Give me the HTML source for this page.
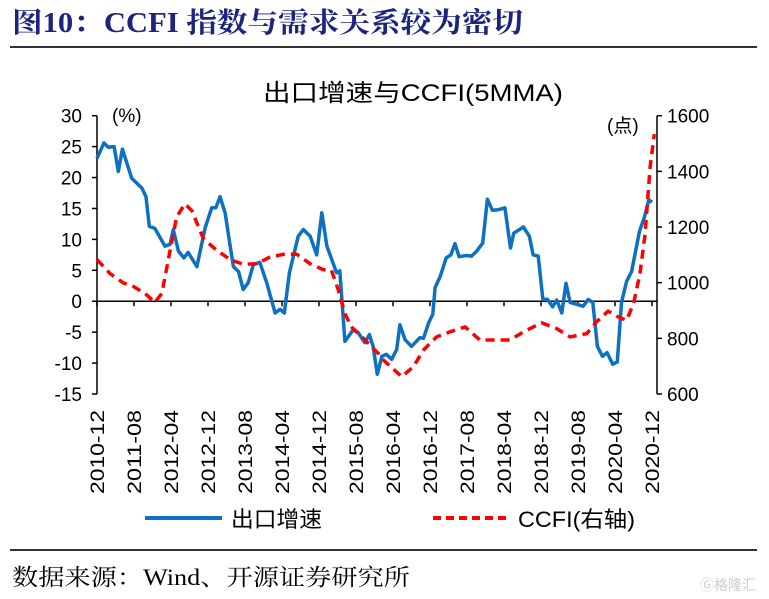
<!DOCTYPE html>
<html><head><meta charset="utf-8"><style>
body{margin:0;background:#fff;}
svg{display:block;}
</style></head><body>
<svg id="chart" width="769" height="599" viewBox="0 0 769 599" xmlns="http://www.w3.org/2000/svg">
<text x="12" y="32" font-family="'Liberation Serif','Noto Serif CJK SC',serif" font-weight="bold" font-size="28" fill="#1c2480" textLength="511" lengthAdjust="spacingAndGlyphs">图10：CCFI 指数与需求关系较为密切</text>
<line x1="10" y1="47" x2="757" y2="47" stroke="#333" stroke-width="2"/>
<text x="413" y="101" text-anchor="middle" font-family="'Liberation Sans','Noto Sans CJK SC',sans-serif" font-size="24" fill="#000" textLength="300" lengthAdjust="spacingAndGlyphs">出口增速与CCFI(5MMA)</text>
<text x="112" y="122" font-family="'Liberation Sans',sans-serif" font-size="19">(%)</text>
<text x="607" y="132" font-family="'Liberation Sans','Noto Sans CJK SC',sans-serif" font-size="19">(点)</text>
<g id="axes"></g>
<g id="series"></g>
<line x1="145" y1="518" x2="222" y2="518" stroke="#0e70c0" stroke-width="4"/>
<text x="231" y="527" font-family="'Noto Sans CJK SC',sans-serif" font-size="22" textLength="91" lengthAdjust="spacingAndGlyphs">出口增速</text>
<line x1="433" y1="518" x2="508" y2="518" stroke="#ff0000" stroke-width="4" stroke-dasharray="8,5"/>
<text x="518" y="527" font-family="'Liberation Sans','Noto Sans CJK SC',sans-serif" font-size="22" textLength="117" lengthAdjust="spacingAndGlyphs">CCFI(右轴)</text>
<line x1="10" y1="550" x2="757" y2="550" stroke="#333" stroke-width="2"/>
<text x="12" y="585" font-family="'Liberation Serif','Noto Serif CJK SC',serif" font-size="23" textLength="398" lengthAdjust="spacingAndGlyphs">数据来源：Wind、开源证券研究所</text>
<text x="700" y="590" font-family="'Noto Sans CJK SC',sans-serif" font-size="14" fill="#ccc">Ⓖ格隆汇</text>
</svg>
<script>
const xLabels=["2010-12","2011-08","2012-04","2012-12","2013-08","2014-04","2014-12","2015-08","2016-04","2016-12","2017-08","2018-04","2018-12","2019-08","2020-04","2020-12"];
const leftTicks=[30,25,20,15,10,5,0,-5,-10,-15];
const rightTicks=[1600,1400,1200,1000,800,600];
const exportMonths=[0,1.5,2.4,3.7,4.6,5.5,7.5,9.7,10.6,11.3,12.5,14.7,15.8,16.5,17.6,18.8,19.7,21.6,23.4,24.8,25.7,26.6,27.7,28.8,29.5,30.6,31.6,32.7,33.8,35.2,36.7,38.5,39.6,40.5,41.6,43.5,44.6,46.1,47.5,48.6,49.7,51.8,52.5,53.6,55.4,56.5,57.9,58.9,59.7,60.6,61.6,62.6,63.7,64.8,65.5,66.6,68,69.8,70.6,71.7,72.6,73.1,74.2,75.5,76.5,77.4,78.3,79.9,81,82.1,83.4,84.4,85.5,86.8,88.2,89.4,90.1,92.2,93.5,94.3,95.4,96.4,97.4,98.5,99.4,100.5,101.4,102.3,103.7,105.1,106.2,107.2,108.2,109.3,110.3,111.5,112.5,113.4,114.5,115.6,117.3,118.4,119.3,120];
const exportValues=[23.1,25.6,24.9,25,21,24.6,19.9,18.3,16.9,12.1,11.8,8.9,9.2,11.6,8.1,7,7.9,5.6,11.9,15.1,15.1,16.9,14.3,8.9,5.6,4.8,1.9,3,5.9,6.3,3,-1.9,-1.3,-1.9,4.6,10.5,11.6,10.5,7.5,14.3,8.9,4.6,4.9,-6.5,-4.6,-5.1,-6.7,-5.4,-7.3,-11.8,-8.9,-8.6,-9.4,-7.8,-3.8,-6.2,-7.3,-5.9,-6,-3.5,-2.1,2.2,4,7,7.5,9.3,7.2,7.4,7.3,8.1,9.4,16.5,14.7,14.8,15.1,8.6,11,12,10.5,7.5,7.3,0.3,0.3,-0.9,0.2,-1.9,2.9,-0.2,-0.5,-0.8,0.3,-0.2,-7.3,-8.9,-8.3,-10.2,-9.8,-0.2,3.2,4.8,11.3,13.7,16.4,16];
const ccfiMonths=[0,2.8,5.7,7.8,10.4,12.5,14,15.4,17.2,19,20.5,23,25.9,28.8,31.6,34.5,37.4,40.3,43.2,46.1,48.9,50.7,52.2,53.6,55,57.6,60.8,61.9,65.9,68.4,70.6,73.4,76.3,79.6,82.8,85.7,89.3,92.2,96.1,99.4,102.3,105.9,108,110.5,112.7,114.5,116,117.4,118.5,119.6,120.5];
const ccfiValues=[1083,1033,999,987,961,929,961,1080,1236,1283,1259,1158,1116,1083,1066,1068,1092,1102,1102,1068,1047,1044,973,889,841,800,746,722,662,698,758,805,823,841,794,794,794,823,856,835,805,817,859,898,877,865,925,1033,1176,1415,1534];

const NS="http://www.w3.org/2000/svg";
const X0=97,X1=652,YT=115.7,YB=394;
const xs=m=>X0+(X1-X0)*m/120;
const yL=v=>YT+(30-v)/45*(YB-YT);
const yR=v=>YT+(1600-v)/1000*(YB-YT);
function mk(tag,attrs,parent){const e=document.createElementNS(NS,tag);for(const k in attrs)e.setAttribute(k,attrs[k]);parent.appendChild(e);return e;}
const axes=document.getElementById('axes'),series=document.getElementById('series');
let e;
e=mk('line',{x1:X0,y1:YT,x2:X0,y2:YB,stroke:'#000','stroke-width':1.5},axes);


e=mk('line',{x1:657,y1:YT,x2:657,y2:YB,stroke:'#000','stroke-width':1.5},axes);


e=mk('line',{x1:X0,y1:yL(0),x2:657,y2:yL(0),stroke:'#000','stroke-width':1.5},axes);


leftTicks.forEach(t=>{
  mk('line',{x1:X0-5,y1:yL(t),x2:X0,y2:yL(t),stroke:'#000','stroke-width':1.5},axes);
  e=mk('text',{x:82,y:yL(t)+7,'text-anchor':'end','font-family':'Liberation Sans, sans-serif','font-size':19},axes);
  e.textContent=t;
  
  
});
rightTicks.forEach(t=>{
  mk('line',{x1:657,y1:yR(t),x2:662,y2:yR(t),stroke:'#000','stroke-width':1.5},axes);
  e=mk('text',{x:667,y:yR(t)+7,'font-family':'Liberation Sans, sans-serif','font-size':19},axes);
  e.textContent=t;
  
  
});
xLabels.forEach((l,i)=>{
  const x=xs(i*8);
  mk('line',{x1:x,y1:yL(0),x2:x,y2:yL(0)+5,stroke:'#000','stroke-width':1.5},axes);
  e=mk('text',{x:0,y:0,transform:`translate(${x+7},494) rotate(-90)`,'font-family':'Liberation Sans, sans-serif','font-size':19,textLength:84,lengthAdjust:'spacingAndGlyphs'},axes);
  e.textContent=l;
  
  
});
e=mk('path',{d:exportMonths.map((m,i)=>(i?'L':'M')+xs(m).toFixed(1)+','+yL(exportValues[i]).toFixed(1)).join(''),fill:'none',stroke:'#0e70c0','stroke-width':3.5,'stroke-linejoin':'round'},series);


e=mk('path',{d:ccfiMonths.map((m,i)=>(i?'L':'M')+xs(m).toFixed(1)+','+yR(ccfiValues[i]).toFixed(1)).join(''),fill:'none',stroke:'#ff0000','stroke-width':3.5,'stroke-dasharray':'9,6','stroke-linejoin':'round'},series);


</script>
</body></html>
